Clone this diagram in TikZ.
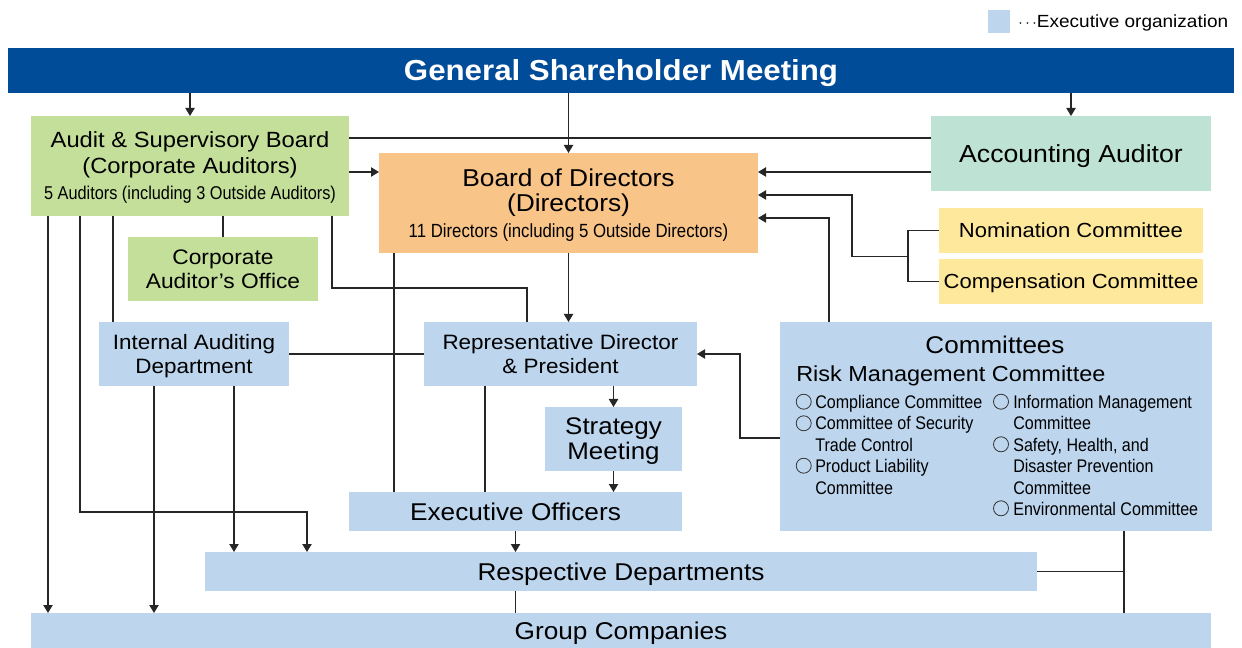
\documentclass[tikz,border=0pt]{standalone}
\usepackage{fontspec}
\setmainfont{Liberation Sans}[FakeStretch=1.08]
\newfontfamily\condfont{Liberation Sans}[FakeStretch=0.88]
\usetikzlibrary{arrows.meta}
\definecolor{gsmblue}{RGB}{0,76,153}
\definecolor{ltblue}{RGB}{189,214,238}
\definecolor{ltgreen}{RGB}{195,223,153}
\definecolor{mint}{RGB}{190,227,213}
\definecolor{ltorange}{RGB}{248,196,136}
\definecolor{ltyellow}{RGB}{254,232,155}
\newcommand\fsz[2]{\fontsize{#1}{#2}\selectfont}
\begin{document}
\begin{tikzpicture}[x=0.75pt,y=-0.75pt,
  bx/.style={draw=none,inner sep=0pt,outer sep=0pt,align=center,text=black,text depth=0pt},
  lbl/.style={inner sep=0pt,anchor=base west},
  itm/.style={inner sep=0pt,anchor=base west,font=\condfont\fsz{13.7pt}{16pt}},
  ln/.style={line width=0.8pt,draw=black!85},
  arr/.style={ln,-{Triangle[length=6pt,width=7pt]}},
  circ/.style={line width=0.6pt,draw=black!80},
]
\useasboundingbox (0,0) rectangle (1242,648);

% legend
\node[bx,fill=ltblue,minimum width=16.5pt,minimum height=17.25pt] (leg) at (999,21.5) {};
\node[inner sep=0pt,anchor=west,font=\fsz{13.2pt}{16pt}] (legt) at (1018,23) {$\cdots$Executive organization};

% boxes
\node[bx,fill=gsmblue,minimum width=919.5pt,minimum height=33.75pt,text=white,font=\bfseries\fsz{21.7pt}{26pt}] (gsm) at (621,70.5) {General Shareholder Meeting};
\node[bx,fill=ltgreen,minimum width=238.5pt,minimum height=75pt,font=\fsz{16.5pt}{19.5pt}] (asb) at (190,166)
  {Audit \& Supervisory Board\\(Corporate Auditors)\\{\condfont\fsz{13.9pt}{19.5pt}5 Auditors (including 3 Outside Auditors)}};
\node[bx,fill=mint,minimum width=210pt,minimum height=56.25pt,font=\fsz{18.5pt}{22pt}] (acc) at (1071,153.5) {Accounting Auditor};
\node[bx,fill=ltorange,minimum width=284.25pt,minimum height=75pt,font=\fsz{18.3pt}{19.2pt}] (bod) at (568.5,203)
  {Board of Directors\\(Directors)\\{\condfont\fsz{14.3pt}{19.2pt}11 Directors (including 5 Outside Directors)}};
\node[bx,fill=ltyellow,minimum width=198pt,minimum height=33.75pt,font=\fsz{15.3pt}{18pt}] (nom) at (1071,230.5) {Nomination Committee};
\node[bx,fill=ltyellow,minimum width=198pt,minimum height=33.75pt,font=\fsz{15.3pt}{18pt}] (cmp) at (1071,281.5) {Compensation Committee};
\node[bx,fill=ltgreen,minimum width=142.5pt,minimum height=48pt,font=\fsz{15.8pt}{18.2pt}] (cao) at (223,269) {Corporate\\Auditor's Office};
\node[bx,fill=ltblue,minimum width=142.5pt,minimum height=48pt,font=\fsz{15.6pt}{17.5pt}] (iad) at (194,354) {Internal Auditing\\Department};
\node[bx,fill=ltblue,minimum width=204.75pt,minimum height=48pt,font=\fsz{15.6pt}{18.2pt}] (rep) at (560.5,354) {Representative Director\\\& President};
\node[bx,fill=ltblue,minimum width=324pt,minimum height=156.75pt] (com) at (996,426.5) {};
\node[bx,fill=ltblue,minimum width=102.75pt,minimum height=48pt,font=\fsz{18pt}{18.8pt}] (stm) at (613.5,439) {Strategy\\Meeting};
\node[bx,fill=ltblue,minimum width=249.75pt,minimum height=29.25pt,font=\fsz{18.2pt}{22pt}] (exo) at (515.5,511.5) {Executive Officers};
\node[bx,fill=ltblue,minimum width=624pt,minimum height=29.25pt,font=\fsz{18.2pt}{22pt}] (rsd) at (621,571.5) {Respective Departments};
\node[bx,fill=ltblue,minimum width=885pt,minimum height=26.25pt,font=\fsz{18.2pt}{22pt}] (grp) at (621,630.5) {Group Companies};

% committees content
\node[inner sep=0pt,anchor=base,font=\fsz{18.1pt}{20pt}] (comt) at (995,354) {Committees};
\node[lbl,font=\fsz{16.3pt}{20pt}] (risk) at (796,381.7) {Risk Management Committee};
\node[itm] (c1) at (815,408) {Compliance Committee};
\node[itm] (c2a) at (815,429.5) {Committee of Security};
\node[itm] (c2b) at (815,451) {Trade Control};
\node[itm] (c3a) at (815,472.5) {Product Liability};
\node[itm] (c3b) at (815,494) {Committee};
\node[itm] (c4a) at (1013,408) {Information Management};
\node[itm] (c4b) at (1013,429.5) {Committee};
\node[itm] (c5a) at (1013,451) {Safety, Health, and};
\node[itm] (c5b) at (1013,472.5) {Disaster Prevention};
\node[itm] (c5c) at (1013,494) {Committee};
\node[itm] (c6) at (1013,515) {Environmental Committee};
\draw[circ] (803.7,401.7) circle[radius=7.5];
\draw[circ] (803.7,423.3) circle[radius=7.5];
\draw[circ] (803.7,465.7) circle[radius=7.5];
\draw[circ] (1001,401.7) circle[radius=7.5];
\draw[circ] (1001,444.3) circle[radius=7.5];
\draw[circ] (1001,508.3) circle[radius=7.5];

% connectors from the meeting
\draw[arr] (asb.north |- gsm.south) -- (asb.north);
\draw[arr] (bod.north |- gsm.south) -- (bod.north);
\draw[arr] (acc.north |- gsm.south) -- (acc.north);

% audit board
\draw[ln] (asb.east |- 0,138) -- (acc.west |- 0,138);
\draw[arr] (asb.east |- 0,172) -- (bod.west |- 0,172);
\draw[arr] (asb.south -| 48,0) -- (grp.north -| 48,0);
\draw[arr] (asb.south -| 80,0) |- (307,512) -- (rsd.north -| 307,0);
\draw[ln] (asb.south -| 113,0) -- (iad.north -| 113,0);
\draw[ln] (cao.north |- asb.south) -- (cao.north);
\draw[ln] (asb.south -| 332,0) |- (527,288) -- (rep.north -| 527,0);

% accounting auditor
\draw[arr] (acc.west |- 0,172) -- (bod.east |- 0,172);

% nomination / compensation
\coordinate (brk) at (908,256.5);
\draw[ln] (nom.west) -| (brk) |- (cmp.west);
\draw[arr] (brk) -| (852,195) -- (bod.east |- 0,195);

% committees
\draw[arr] (com.north -| 829,0) |- (bod.east |- 0,218);
\draw[arr] (com.west |- 0,438) -| (740,354) -- (rep.east);
\draw[ln] (com.south -| 1124,0) -- (grp.north -| 1124,0);
\draw[ln] (rsd.east) -- (rsd.east -| 1124,0);

% board of directors
\draw[arr] (bod.south) -- (bod.south |- rep.north);
\draw[ln] (bod.south -| 394,0) -- (exo.north -| 394,0);

% internal auditing
\draw[ln] (iad.east) -- (rep.west);
\draw[arr] (iad.south -| 154,0) -- (grp.north -| 154,0);
\draw[arr] (iad.south -| 234,0) -- (rsd.north -| 234,0);

% president line
\draw[arr] (stm.north |- rep.south) -- (stm.north);
\draw[ln] (rep.south -| 485,0) -- (exo.north -| 485,0);
\draw[arr] (stm.south) -- (stm.south |- exo.north);
\draw[arr] (exo.south) -- (exo.south |- rsd.north);
\draw[ln] (rsd.south -| exo.south) -- (grp.north -| exo.south);
\end{tikzpicture}
\end{document}
